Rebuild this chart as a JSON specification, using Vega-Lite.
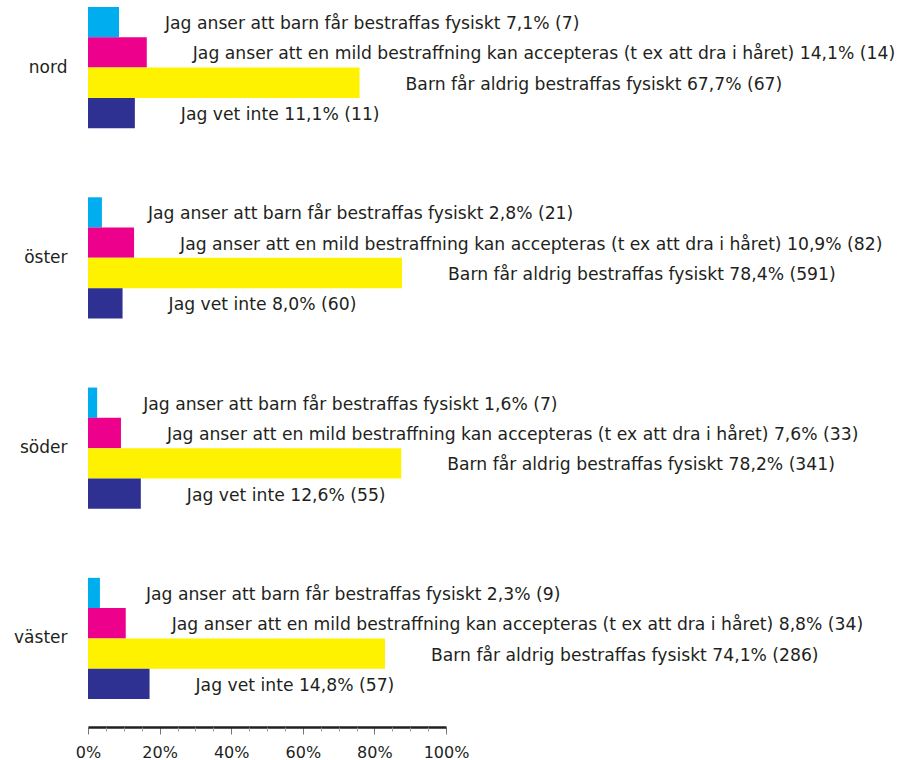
{
  "$schema": "https://vega.github.io/schema/vega-lite/v6.json",
  "autosize": "none",
  "width": 358,
  "height": 692,
  "padding": {"left": 88, "top": 7, "right": 451, "bottom": 61},
  "background": "white",
  "config": {
    "view": {"stroke": null},
    "font": "DejaVu Sans",
    "text": {"font": "DejaVu Sans"}
  },
  "data": {
    "values": [
      {"region": "nord", "cat": "Jag anser att barn får bestraffas fysiskt", "pct": 7.1, "n": 7},
      {"region": "nord", "cat": "Jag anser att en mild bestraffning kan accepteras (t ex att dra i håret)", "pct": 14.1, "n": 14},
      {"region": "nord", "cat": "Barn får aldrig bestraffas fysiskt", "pct": 67.7, "n": 67},
      {"region": "nord", "cat": "Jag vet inte", "pct": 11.1, "n": 11},
      {"region": "öster", "cat": "Jag anser att barn får bestraffas fysiskt", "pct": 2.8, "n": 21},
      {"region": "öster", "cat": "Jag anser att en mild bestraffning kan accepteras (t ex att dra i håret)", "pct": 10.9, "n": 82},
      {"region": "öster", "cat": "Barn får aldrig bestraffas fysiskt", "pct": 78.4, "n": 591},
      {"region": "öster", "cat": "Jag vet inte", "pct": 8.0, "n": 60},
      {"region": "söder", "cat": "Jag anser att barn får bestraffas fysiskt", "pct": 1.6, "n": 7},
      {"region": "söder", "cat": "Jag anser att en mild bestraffning kan accepteras (t ex att dra i håret)", "pct": 7.6, "n": 33},
      {"region": "söder", "cat": "Barn får aldrig bestraffas fysiskt", "pct": 78.2, "n": 341},
      {"region": "söder", "cat": "Jag vet inte", "pct": 12.6, "n": 55},
      {"region": "väster", "cat": "Jag anser att barn får bestraffas fysiskt", "pct": 2.3, "n": 9},
      {"region": "väster", "cat": "Jag anser att en mild bestraffning kan accepteras (t ex att dra i håret)", "pct": 8.8, "n": 34},
      {"region": "väster", "cat": "Barn får aldrig bestraffas fysiskt", "pct": 74.1, "n": 286},
      {"region": "väster", "cat": "Jag vet inte", "pct": 14.8, "n": 57}
    ]
  },
  "layer": [
    {
      "transform": [
        {"calculate": "datum.cat + ' ' + replace(format(datum.pct, '.1f'), '.', ',') + '% (' + datum.n + ')'", "as": "label"}
      ],
      "encoding": {
        "y": {
          "field": "region", "type": "nominal",
          "sort": ["nord", "öster", "söder", "väster"],
          "scale": {"paddingInner": 0.3632, "paddingOuter": 0},
          "axis": {"title": null, "domain": false, "ticks": false, "labelPadding": 21, "labelFontSize": 17, "labelColor": "#231f20", "labelFont": "DejaVu Sans"}
        },
        "yOffset": {
          "field": "cat", "type": "nominal",
          "sort": ["Jag anser att barn får bestraffas fysiskt", "Jag anser att en mild bestraffning kan accepteras (t ex att dra i håret)", "Barn får aldrig bestraffas fysiskt", "Jag vet inte"],
          "scale": {"paddingInner": 0, "paddingOuter": 0}
        }
      },
      "layer": [
        {
          "mark": {"type": "bar"},
          "encoding": {
            "x": {"field": "pct", "type": "quantitative", "scale": {"domain": [-0.705, 89.47], "nice": false, "zero": false}, "axis": null},
            "x2": {"datum": -0.705},
            "color": {
              "field": "cat", "type": "nominal", "legend": null,
              "sort": ["Jag anser att barn får bestraffas fysiskt", "Jag anser att en mild bestraffning kan accepteras (t ex att dra i håret)", "Barn får aldrig bestraffas fysiskt", "Jag vet inte"],
              "scale": {"range": ["#00aeef", "#ec008c", "#fff200", "#2e3192"]}
            }
          }
        },
        {
          "mark": {"type": "text", "align": "left", "baseline": "middle", "dx": 46, "dy": 2, "fontSize": 17.2, "color": "#231f20", "font": "DejaVu Sans"},
          "encoding": {
            "x": {"field": "pct", "type": "quantitative"},
            "text": {"field": "label"}
          }
        }
      ]
    },
    {
      "data": {"values": [{"v": 0}, {"v": 100}]},
      "mark": {"type": "rule", "strokeOpacity": 0},
      "encoding": {
        "x": {
          "field": "v", "type": "quantitative",
          "scale": {"domain": [0, 100], "nice": false},
          "axis": {
            "orient": "bottom", "offset": 28, "title": null, "grid": false,
            "values": [0, 20, 40, 60, 80, 100],
            "labelExpr": "datum.value + '%'",
            "domainColor": "#231f20", "domainWidth": 2.5, "domainCap": "butt",
            "tickColor": "#777777", "tickSize": 7, "tickWidth": 1,
            "labelFontSize": 16, "labelColor": "#231f20", "labelFont": "DejaVu Sans", "labelPadding": 10,
            "labelFlush": false
          }
        }
      }
    },
    {
      "data": {"values": [{"v": 0}, {"v": 100}]},
      "mark": {"type": "rule", "strokeOpacity": 0},
      "encoding": {
        "x": {
          "field": "v", "type": "quantitative",
          "scale": {"domain": [0, 100], "nice": false},
          "axis": {
            "orient": "bottom", "offset": 28, "title": null, "grid": false,
            "values": [5, 10, 15, 25, 30, 35, 45, 50, 55, 65, 70, 75, 85, 90, 95],
            "labels": false, "domain": false,
            "tickColor": "#999999", "tickSize": 4, "tickWidth": 1
          }
        }
      }
    }
  ],
  "resolve": {"scale": {"x": "independent"}, "axis": {"x": "independent"}}
}
